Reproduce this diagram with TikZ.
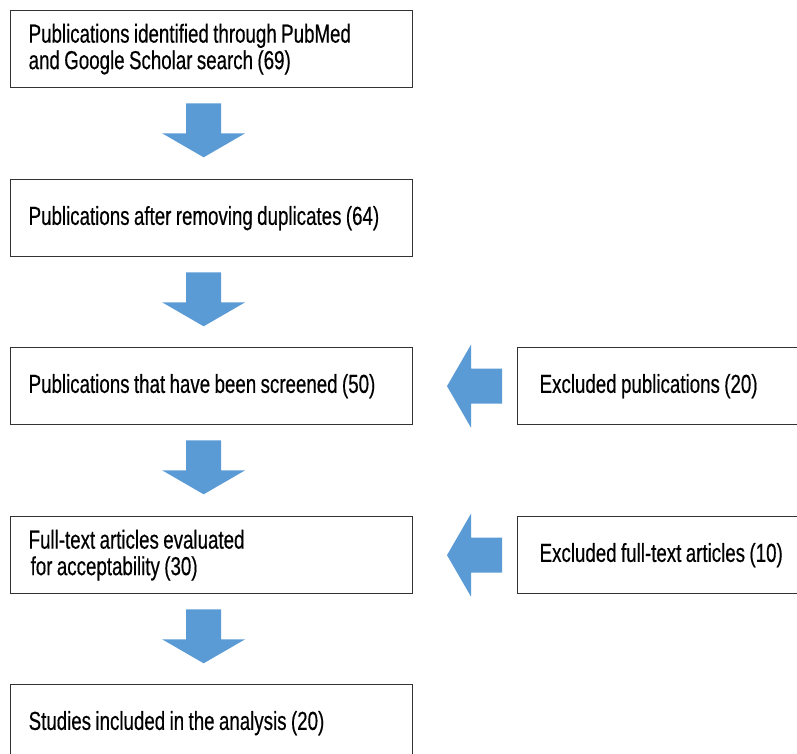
\documentclass[tikz,border=0pt]{standalone}
\usepackage{fontspec}
\setmainfont{Liberation Sans}[FakeStretch=0.72,FakeBold=0.4]
\definecolor{arrowblue}{RGB}{91,155,213}
\definecolor{boxline}{RGB}{50,50,50}
\newcommand\myboxfont{\fontsize{26}{26.5}\selectfont}
\newcommand\mytightspace{\spaceskip=4.4pt\relax\xspaceskip=4.4pt\relax}
\begin{document}
\begin{tikzpicture}[x=1pt,y=-1pt,
  txt/.style={font=\myboxfont,execute at begin node=\mytightspace},
  box/.style={txt,draw=boxline,line width=1.3pt,fill=white,minimum width=402pt,minimum height=77pt,
    text width=366pt,inner xsep=18pt,align=left,anchor=north west},
  sidebox/.style={txt,draw=boxline,line width=1.3pt,fill=white,minimum width=320pt,minimum height=77pt,
    text width=290pt,inner xsep=22pt,align=left,anchor=north west},
  blk/.style={fill=arrowblue}]
\useasboundingbox (0,0) rectangle (797,754);
\clip (0,0) rectangle (797,754);
\fill[white] (0,0) rectangle (797,754);
\node[box] (b1) at (10,10) {\raisebox{-2pt}{Publications identified through PubMed}\\\raisebox{-2pt}{and Google Scholar search (69)}};
\node[box] (b2) at (10,179) {Publications after removing duplicates (64)};
\node[box] (b3) at (10,347) {Publications that have been screened (50)};
\node[box] (b4) at (10,516) {\raisebox{-2pt}{Full-text articles evaluated}\\\hspace*{2pt}\raisebox{-2pt}{for acceptability (30)}};
\node[box] (b5) at (10,684) {\raisebox{-3pt}{Studies included in the analysis (20)}};
\node[sidebox] (e1) at (517,347) {Excluded publications (20)};
\node[sidebox] (e2) at (517,516) {Excluded full-text articles (10)};
% down arrows
\foreach \s/\t in {b1/b2,b2/b3,b3/b4,b4/b5}{
  \path (\s.south) ++(-8,15) coordinate (top-\s);
  \fill[blk] (top-\s) ++(-17.5,0) -- ++(35,0) -- ++(0,30) -- ++(24,0) -- ++(-41.5,24) -- ++(-41.5,-24) -- ++(24,0) -- cycle;
}
% left arrows
\foreach \e in {e1,e2}{
  \path (\e.west) ++(-15,0) coordinate (tail-\e);
  \fill[blk] (tail-\e) ++(0,-17.5) -- ++(0,35) -- ++(-31,0) -- ++(0,24) -- ++(-24,-41.5) -- ++(24,-41.5) -- ++(0,24) -- cycle;
}
\end{tikzpicture}
\end{document}
